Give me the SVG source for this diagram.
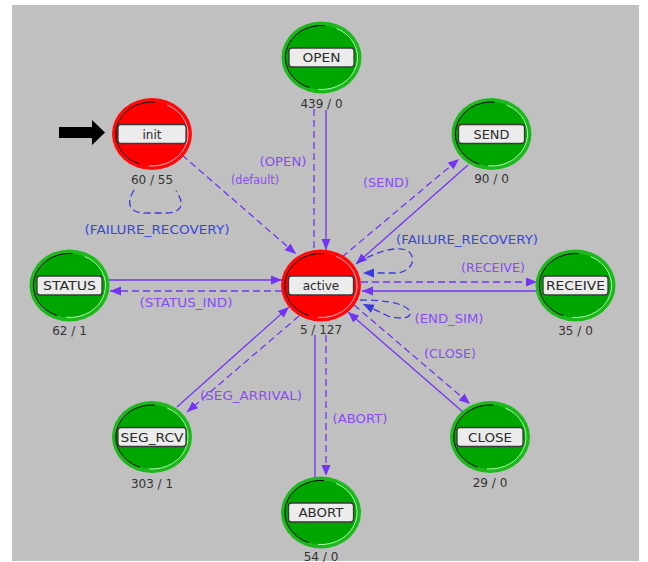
<svg xmlns="http://www.w3.org/2000/svg" xmlns:xlink="http://www.w3.org/1999/xlink" width="648" height="562" viewBox="0 0 648 562">
<style>
text{font-family:"DejaVu Sans","Liberation Sans",sans-serif}
.nl{font-size:12px;fill:#2a2a2a;text-anchor:middle}
.cnt{font-size:12px;fill:#333;text-anchor:middle}
.tl{font-size:12px;fill:#8a4cf2;text-anchor:middle}
.fl{font-size:12px;fill:#3a48d8;text-anchor:middle}
.box{fill:#ececec;stroke:#3a3a3a;stroke-width:1.3}
.sol{fill:none;stroke:#7434f4;stroke-width:1.3}
.dsh{fill:none;stroke:#7434f4;stroke-width:1.3;stroke-dasharray:7 4}
.loop{fill:none;stroke:#3a3ae0;stroke-width:1.3;stroke-dasharray:7 4}
</style>
<defs>
<marker id="ah" markerUnits="userSpaceOnUse" markerWidth="12" markerHeight="10" refX="11" refY="4.5" orient="auto">
<path d="M0,0 L11,4.5 L0,9 z" fill="#7434f4"/>
</marker>
<marker id="ahb" markerUnits="userSpaceOnUse" markerWidth="12" markerHeight="10" refX="11" refY="4.5" orient="auto">
<path d="M0,0 L11,4.5 L0,9 z" fill="#3a3ae0"/>
</marker>
<g id="green">
<ellipse rx="40" ry="36" fill="#1cb81c"/>
<ellipse rx="36" ry="32" fill="#00a600"/>
<path d="M3.1,-31.9 A36,32 0 0 0 -12.3,30.1" fill="none" stroke="#000" stroke-width="1"/>
<path d="M15.2,-29 A36,32 0 0 1 -3.1,31.9" fill="none" stroke="#a8ffa8" stroke-width="1"/>
</g>
<g id="red">
<ellipse rx="40" ry="36" fill="#ff0a0a"/>
<ellipse rx="36" ry="32" fill="#ff0000"/>
<path d="M3.1,-31.9 A36,32 0 0 0 -12.3,30.1" fill="none" stroke="#000" stroke-width="1"/>
<path d="M15.2,-29 A36,32 0 0 1 -3.1,31.9" fill="none" stroke="#ffb8c8" stroke-width="1"/>
</g>
</defs>
<rect x="0" y="0" width="648" height="562" fill="#ffffff"/>
<rect x="12" y="5" width="627" height="556" fill="#c0c0c0"/>

<g id="connectors">
<!-- init -> active -->
<path class="dsh" d="M182,155 L296,254" marker-end="url(#ah)"/>
<!-- init self loop -->
<path class="loop" d="M134,190 C125,205 130,214 148,213 L166,213 C184,213 184,202 176,191"/>
<!-- OPEN -->
<path class="dsh" d="M314,109 L314,249"/>
<path class="sol" d="M326,110 L326,250" marker-end="url(#ah)"/>
<!-- SEND -->
<path class="dsh" d="M342,257 L459,159" marker-end="url(#ah)"/>
<path class="sol" d="M468,165 L356,264" marker-end="url(#ah)"/>
<!-- active failure recovery loop -->
<path class="loop" d="M357,263 C375,252 398,245 408,251 C416,257 414,270 398,273 L363,273" marker-end="url(#ahb)"/>
<!-- RECEIVE -->
<path class="dsh" d="M361,282 L537,282" marker-end="url(#ah)"/>
<path class="sol" d="M536,291 L362,291" marker-end="url(#ah)"/>
<!-- END_SIM loop -->
<path class="loop" d="M360,300 C380,300 402,302 409,310 C414,318 402,320 388,316 L363,304" marker-end="url(#ahb)"/>
<!-- STATUS -->
<path class="sol" d="M109,280 L282,280" marker-end="url(#ah)"/>
<path class="dsh" d="M282,291 L110,291" marker-end="url(#ah)"/>
<!-- SEG_RCV -->
<path class="sol" d="M177,407 L289,307" marker-end="url(#ah)"/>
<path class="dsh" d="M299,316 L187,412" marker-end="url(#ah)"/>
<!-- ABORT -->
<path class="sol" d="M315,477 L315,335"/>
<path class="dsh" d="M326,335 L326,476" marker-end="url(#ah)"/>
<!-- CLOSE -->
<path class="sol" d="M463,412 L348,312" marker-end="url(#ah)"/>
<path class="dsh" d="M354,305 L470,404" marker-end="url(#ah)"/>
</g>

<g id="labels">
<text class="tl" x="283" y="166" textLength="47" lengthAdjust="spacingAndGlyphs">(OPEN)</text>
<text class="tl" x="255" y="184" textLength="48" lengthAdjust="spacingAndGlyphs">(default)</text>
<text class="tl" x="386" y="187" textLength="46" lengthAdjust="spacingAndGlyphs">(SEND)</text>
<text class="fl" x="467" y="244" textLength="142" lengthAdjust="spacingAndGlyphs">(FAILURE_RECOVERY)</text>
<text class="tl" x="493" y="272" textLength="64" lengthAdjust="spacingAndGlyphs">(RECEIVE)</text>
<text class="fl" x="157" y="234" textLength="145" lengthAdjust="spacingAndGlyphs">(FAILURE_RECOVERY)</text>
<text class="tl" x="186" y="307" textLength="93" lengthAdjust="spacingAndGlyphs">(STATUS_IND)</text>
<text class="tl" x="449" y="323" textLength="69" lengthAdjust="spacingAndGlyphs">(END_SIM)</text>
<text class="tl" x="450" y="358" textLength="52" lengthAdjust="spacingAndGlyphs">(CLOSE)</text>
<text class="tl" x="251" y="400" textLength="102" lengthAdjust="spacingAndGlyphs">(SEG_ARRIVAL)</text>
<text class="tl" x="360" y="423" textLength="55" lengthAdjust="spacingAndGlyphs">(ABORT)</text>
</g>

<g id="start-arrow">
<polygon points="59,127 92,127 92,120 105,132.5 92,145 92,138 59,138" fill="#000"/>
</g>

<g id="node-OPEN" transform="translate(321.5,57.5)">
<use xlink:href="#green"/>
<rect class="box" x="-32.5" y="-9.5" width="65" height="19" rx="3"/>
<text class="nl" x="0" y="4.5" textLength="38" lengthAdjust="spacingAndGlyphs">OPEN</text>
<text class="cnt" x="0" y="50">439 / 0</text>
</g>
<g id="node-init" transform="translate(152,134)">
<use xlink:href="#red"/>
<rect class="box" x="-34" y="-9.5" width="68" height="19" rx="3"/>
<text class="nl" x="0" y="4.5">init</text>
<text class="cnt" x="0" y="50">60 / 55</text>
</g>
<g id="node-SEND" transform="translate(491.5,134)">
<use xlink:href="#green"/>
<rect class="box" x="-33" y="-9.5" width="66" height="19" rx="3"/>
<text class="nl" x="0" y="4.5" textLength="36" lengthAdjust="spacingAndGlyphs">SEND</text>
<text class="cnt" x="0" y="49">90 / 0</text>
</g>
<g id="node-STATUS" transform="translate(69.5,285.5)">
<use xlink:href="#green"/>
<rect class="box" x="-32.5" y="-9.5" width="65" height="19" rx="3"/>
<text class="nl" x="0" y="4.5" textLength="53" lengthAdjust="spacingAndGlyphs">STATUS</text>
<text class="cnt" x="0" y="49">62 / 1</text>
</g>
<g id="node-active" transform="translate(321,285.5)">
<use xlink:href="#red"/>
<rect class="box" x="-32.5" y="-9.5" width="65" height="19" rx="3"/>
<text class="nl" x="0" y="4.5">active</text>
<text class="cnt" x="0" y="48">5 / 127</text>
</g>
<g id="node-RECEIVE" transform="translate(575.5,285.5)">
<use xlink:href="#green"/>
<rect class="box" x="-32.5" y="-9.5" width="65" height="19" rx="3"/>
<text class="nl" x="0" y="4.5" textLength="59" lengthAdjust="spacingAndGlyphs">RECEIVE</text>
<text class="cnt" x="0" y="49">35 / 0</text>
</g>
<g id="node-SEG_RCV" transform="translate(152,437)">
<use xlink:href="#green"/>
<rect class="box" x="-34" y="-9.5" width="68" height="19" rx="3"/>
<text class="nl" x="0" y="4.5" textLength="63" lengthAdjust="spacingAndGlyphs">SEG_RCV</text>
<text class="cnt" x="0" y="51">303 / 1</text>
</g>
<g id="node-CLOSE" transform="translate(490,437)">
<use xlink:href="#green"/>
<rect class="box" x="-33" y="-9.5" width="66" height="19" rx="3"/>
<text class="nl" x="0" y="4.5" textLength="44" lengthAdjust="spacingAndGlyphs">CLOSE</text>
<text class="cnt" x="0" y="50">29 / 0</text>
</g>
<g id="node-ABORT" transform="translate(321,512.5)">
<use xlink:href="#green"/>
<rect class="box" x="-32.5" y="-9.5" width="65" height="19" rx="3"/>
<text class="nl" x="0" y="4.5" textLength="45" lengthAdjust="spacingAndGlyphs">ABORT</text>
<text class="cnt" x="0" y="48">54 / 0</text>
</g>
</svg>
